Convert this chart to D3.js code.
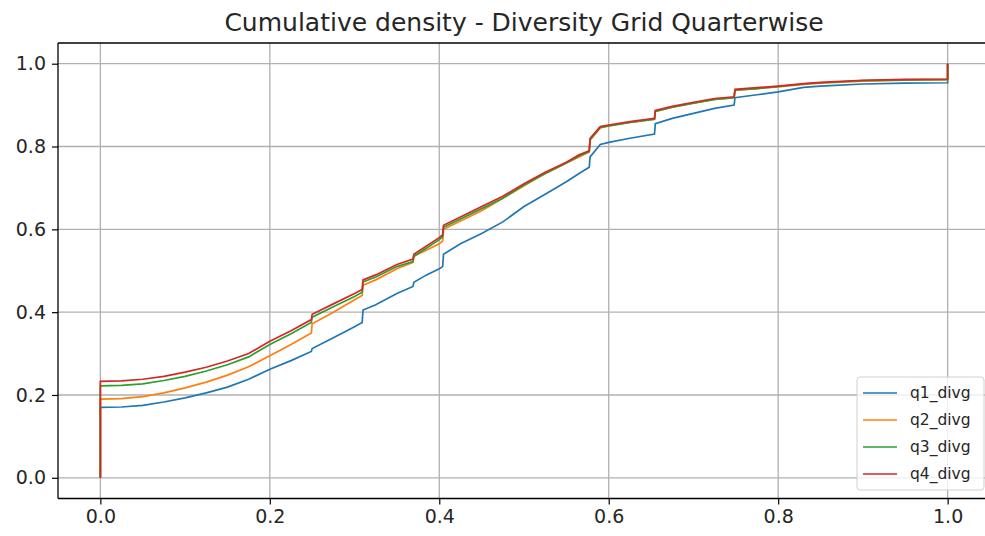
<!DOCTYPE html>
<html>
<head>
<meta charset="utf-8">
<script src="https://cdn.jsdelivr.net/npm/d3@7"></script>
<style>
  html, body { margin: 0; padding: 0; background: #fff; }
  svg { display: block; font-family: "DejaVu Sans", sans-serif; }
</style>
</head>
<body>
<svg id="chart" width="985" height="536"></svg>
<script>
// ---------- data ----------
const title = "Cumulative density - Diversity Grid Quarterwise";
const seriesNames = ["q1_divg", "q2_divg", "q3_divg", "q4_divg"];
const xTicks = [0.0, 0.2, 0.4, 0.6, 0.8, 1.0];
const yTicks = [0.0, 0.2, 0.4, 0.6, 0.8, 1.0];

const xs = [0, 0, 0.025, 0.05, 0.075, 0.1, 0.125, 0.15, 0.175, 0.2, 0.225, 0.249, 0.25,
  0.275, 0.3, 0.309, 0.31, 0.325, 0.35, 0.369, 0.37, 0.385, 0.4, 0.404, 0.405,
  0.425, 0.45, 0.475, 0.5, 0.525, 0.55, 0.565, 0.577, 0.578, 0.59, 0.6, 0.625,
  0.654, 0.655, 0.675, 0.7, 0.725, 0.748, 0.749, 0.775, 0.8, 0.83, 0.85, 0.9, 0.95, 1.0, 1.0];

const q1 = [0, 0.170, 0.171, 0.175, 0.183, 0.193, 0.205, 0.219, 0.238, 0.262, 0.283, 0.305, 0.312,
  0.338, 0.365, 0.375, 0.405, 0.418, 0.445, 0.462, 0.472, 0.490, 0.505, 0.510, 0.540,
  0.565, 0.590, 0.618, 0.655, 0.685, 0.715, 0.735, 0.750, 0.775, 0.805, 0.810, 0.820,
  0.830, 0.855, 0.868, 0.880, 0.892, 0.900, 0.918, 0.925, 0.932, 0.943, 0.946, 0.951, 0.953, 0.954, 1.0];

const q2 = [0, 0.190, 0.191, 0.196, 0.205, 0.217, 0.231, 0.248, 0.268, 0.295, 0.322, 0.350, 0.372,
  0.400, 0.430, 0.440, 0.465, 0.478, 0.505, 0.520, 0.535, 0.550, 0.565, 0.572, 0.600,
  0.620, 0.645, 0.675, 0.705, 0.735, 0.760, 0.775, 0.787, 0.815, 0.845, 0.850, 0.858,
  0.866, 0.885, 0.895, 0.905, 0.914, 0.918, 0.936, 0.940, 0.944, 0.950, 0.953, 0.958, 0.960, 0.961, 1.0];

const q3 = [0, 0.222, 0.223, 0.227, 0.235, 0.245, 0.258, 0.273, 0.292, 0.322, 0.348, 0.375, 0.388,
  0.413, 0.438, 0.448, 0.473, 0.485, 0.510, 0.522, 0.535, 0.555, 0.575, 0.582, 0.605,
  0.625, 0.650, 0.675, 0.707, 0.735, 0.760, 0.777, 0.788, 0.817, 0.846, 0.850, 0.858,
  0.866, 0.885, 0.895, 0.905, 0.914, 0.918, 0.936, 0.940, 0.945, 0.951, 0.954, 0.959, 0.961, 0.962, 1.0];

const q4 = [0, 0.233, 0.234, 0.238, 0.245, 0.255, 0.267, 0.282, 0.300, 0.330, 0.355, 0.382, 0.395,
  0.420, 0.445, 0.455, 0.478, 0.490, 0.515, 0.528, 0.540, 0.560, 0.580, 0.587, 0.610,
  0.630, 0.655, 0.680, 0.710, 0.738, 0.762, 0.780, 0.790, 0.820, 0.848, 0.852, 0.860,
  0.868, 0.887, 0.897, 0.907, 0.916, 0.920, 0.938, 0.942, 0.946, 0.952, 0.955, 0.960, 0.962, 0.963, 1.0];

const seriesValues = [q1, q2, q3, q4];
const colors = ["#1f77b4", "#ff7f0e", "#2ca02c", "#d62728"];

// ---------- layout ----------
const svg = d3.select("#chart");
const plot = { left: 58, right: 990, top: 43, bottom: 498.5 };

const x = d3.scaleLinear().domain([-0.05, 1.05]).range([plot.left, plot.right]);
const y = d3.scaleLinear().domain([-0.05, 1.05]).range([plot.bottom, plot.top]);

// grid
const grid = svg.append("g");
grid.selectAll("line.gx").data(xTicks).join("line")
  .attr("x1", d => x(d)).attr("x2", d => x(d))
  .attr("y1", plot.top).attr("y2", plot.bottom)
  .attr("stroke", "#b0b0b0").attr("stroke-width", 1.3);
grid.selectAll("line.gy").data(yTicks).join("line")
  .attr("x1", plot.left).attr("x2", plot.right)
  .attr("y1", d => y(d)).attr("y2", d => y(d))
  .attr("stroke", "#b0b0b0").attr("stroke-width", 1.3);

// lines
const line = d3.line().x(d => x(d[0])).y(d => y(d[1])).curve(d3.curveLinear);
seriesValues.forEach((vals, i) => {
  const pts = xs.map((xv, k) => [xv, vals[k]]);
  svg.append("path").datum(pts)
    .attr("d", line)
    .attr("fill", "none")
    .attr("stroke", colors[i])
    .attr("stroke-width", 1.7)
    .attr("stroke-linejoin", "miter");
});

// axes
const xAxis = d3.axisBottom(x).tickValues(xTicks).tickFormat(d3.format(".1f")).tickSize(6).tickPadding(5);
const yAxis = d3.axisLeft(y).tickValues(yTicks).tickFormat(d3.format(".1f")).tickSize(6).tickPadding(6);

const gx = svg.append("g").attr("transform", `translate(0,${plot.bottom})`).call(xAxis);
const gy = svg.append("g").attr("transform", `translate(${plot.left},0)`).call(yAxis);
[gx, gy].forEach(g => {
  g.select(".domain").remove();
  g.selectAll(".tick line").attr("stroke", "#000").attr("stroke-width", 1.2);
  g.selectAll(".tick text").attr("fill", "#262626")
    .style("font-family", "'DejaVu Sans', sans-serif").style("font-size", "19px");
});

// spines
const spine = svg.append("g").attr("stroke", "#000").attr("stroke-width", 1.3).attr("fill", "none");
spine.append("line").attr("x1", plot.left).attr("x2", plot.left).attr("y1", plot.top).attr("y2", plot.bottom);
spine.append("line").attr("x1", plot.left).attr("x2", plot.right).attr("y1", plot.bottom).attr("y2", plot.bottom);
spine.append("line").attr("x1", plot.left).attr("x2", plot.right).attr("y1", plot.top).attr("y2", plot.top);
spine.append("line").attr("x1", plot.right).attr("x2", plot.right).attr("y1", plot.top).attr("y2", plot.bottom);

// title
svg.append("text")
  .attr("x", 524).attr("y", 31)
  .attr("text-anchor", "middle")
  .attr("fill", "#262626")
  .style("font-size", "25px")
  .text(title);

// legend
const lg = svg.append("g").attr("transform", "translate(857,377)");
lg.append("rect").attr("width", 127).attr("height", 113).attr("rx", 3)
  .attr("fill", "#fff").attr("fill-opacity", 0.8)
  .attr("stroke", "#d0d0d0").attr("stroke-width", 1);
seriesNames.forEach((name, i) => {
  const yy = 16 + i * 27;
  lg.append("line").attr("x1", 6).attr("x2", 40).attr("y1", yy).attr("y2", yy)
    .attr("stroke", colors[i]).attr("stroke-width", 1.7);
  lg.append("text").attr("x", 53).attr("y", yy + 5)
    .attr("fill", "#262626")
    .style("font-family", "'DejaVu Sans', sans-serif")
    .style("font-size", "15.5px")
    .text(name);
});
</script>
</body>
</html>
